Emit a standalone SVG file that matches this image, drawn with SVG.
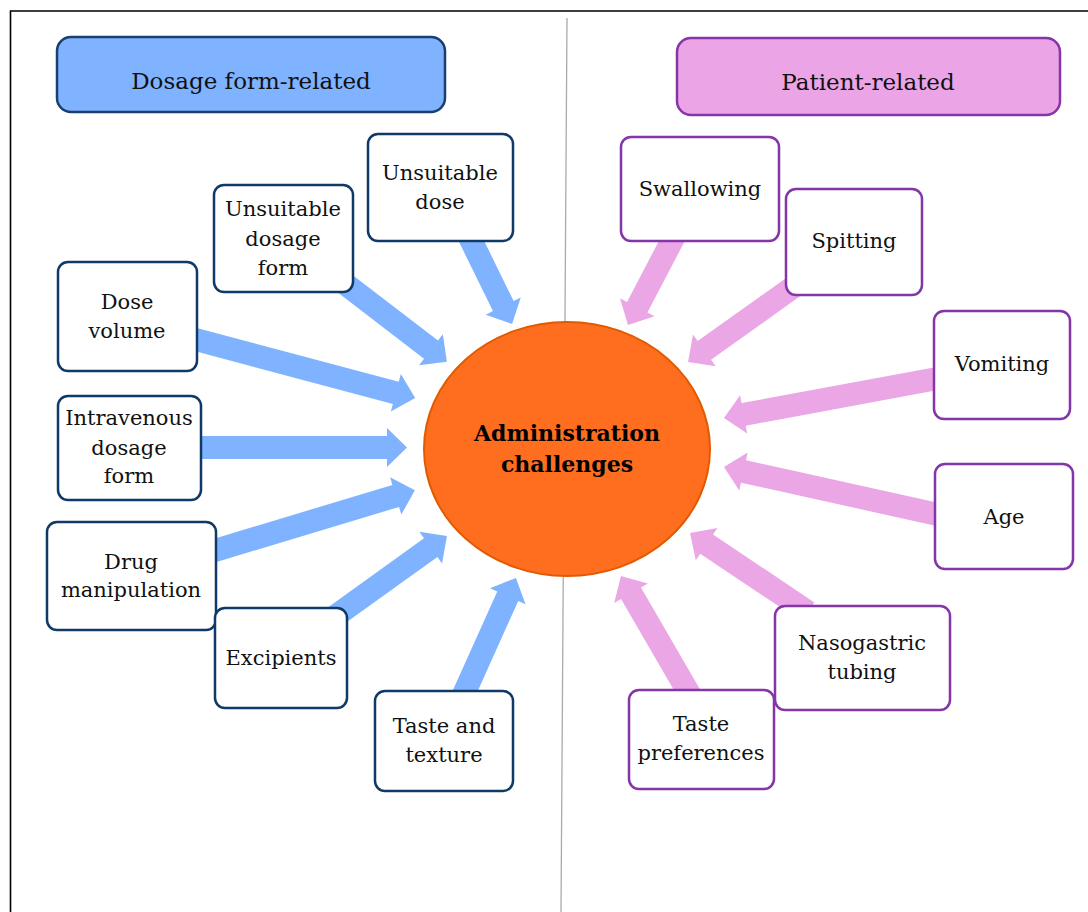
<svg xmlns="http://www.w3.org/2000/svg" width="1088" height="912" viewBox="0 0 1088 912">
<defs>
<style>
.t{font-family:"DejaVu Serif","Liberation Serif",serif;font-size:21px;fill:#111;text-anchor:middle}
.h{font-size:23px}
.b{font-weight:bold;font-size:22px;fill:#000}
.bl{fill:#fff;stroke:#0F3966;stroke-width:2.5}
.pk{fill:#fff;stroke:#8236A8;stroke-width:2.5}
.ab{fill:#7FB3FF}
.ap{fill:#EBA6E6}
</style>
</defs>
<rect width="1088" height="912" fill="#fff"/>
<path d="M10.5,912 V11 H1088" fill="none" stroke="#000" stroke-width="1.6"/>
<line x1="567" y1="18" x2="561" y2="912" stroke="#aaa" stroke-width="1.3"/>
<g id="connectors">
<path class="ab" transform="translate(466,230) rotate(63.9)" d="M0,-11.5 H84.7 V-19.5 L104.7,0 L84.7,19.5 V11.5 H0 Z"/>
<path class="ab" transform="translate(335,276) rotate(37.5)" d="M0,-11.5 H121 V-19.5 L141,0 L121,19.5 V11.5 H0 Z"/>
<path class="ab" transform="translate(190,338) rotate(14.9)" d="M0,-11.5 H213 V-19.5 L233,0 L213,19.5 V11.5 H0 Z"/>
<path class="ab" transform="translate(195,447.5) rotate(0)" d="M0,-11.5 H192 V-19.5 L212,0 L192,19.5 V11.5 H0 Z"/>
<path class="ab" transform="translate(210,552) rotate(-16.8)" d="M0,-11.5 H194 V-19.5 L214,0 L194,19.5 V11.5 H0 Z"/>
<path class="ab" transform="translate(330,620) rotate(-35.7)" d="M0,-11.5 H124 V-19.5 L144,0 L124,19.5 V11.5 H0 Z"/>
<path class="ab" transform="translate(462,698) rotate(-65.8)" d="M0,-11.5 H111.6 V-19.5 L131.6,0 L111.6,19.5 V11.5 H0 Z"/>
<path class="ap" transform="translate(675,235) rotate(117.6)" d="M0,-11.5 H81.5 V-19.5 L101.5,0 L81.5,19.5 V11.5 H0 Z"/>
<path class="ap" transform="translate(796,285) rotate(144.5)" d="M0,-11.5 H112.6 V-19.5 L132.6,0 L112.6,19.5 V11.5 H0 Z"/>
<path class="ap" transform="translate(940,378) rotate(169.5)" d="M0,-11.5 H199.7 V-19.5 L219.7,0 L199.7,19.5 V11.5 H0 Z"/>
<path class="ap" transform="translate(940,515) rotate(-167.5)" d="M0,-11.5 H201.3 V-19.5 L221.3,0 L201.3,19.5 V11.5 H0 Z"/>
<path class="ap" transform="translate(808,612) rotate(-146.2)" d="M0,-11.5 H122 V-19.5 L142,0 L122,19.5 V11.5 H0 Z"/>
<path class="ap" transform="translate(690,695) rotate(-120.1)" d="M0,-11.5 H117.6 V-19.5 L137.6,0 L117.6,19.5 V11.5 H0 Z"/>
</g>
<g id="title-dosage">
<rect x="57" y="37" width="388" height="75" rx="14" fill="#7FB2FF" stroke="#1A3F6E" stroke-width="2.5"/>
<text class="t h" x="251" y="89">Dosage form-related</text>
</g>
<g id="title-patient">
<rect x="677" y="38" width="383" height="77" rx="14" fill="#EBA4E6" stroke="#8634AA" stroke-width="2.5"/>
<text class="t h" x="868" y="90">Patient-related</text>
</g>
<g id="center">
<ellipse cx="567" cy="449" rx="143" ry="127" fill="#FF6E1F" stroke="#E25A00" stroke-width="2"/>
<text class="t b" x="567" y="441">Administration</text>
<text class="t b" x="567" y="472">challenges</text>
</g>
<g id="unsuitable-dose">
<rect class="bl" x="368" y="134" width="145" height="107" rx="10"/>
<text class="t" x="440" y="180">Unsuitable</text>
<text class="t" x="440" y="209">dose</text>
</g>
<g id="unsuitable-dosage-form">
<rect class="bl" x="214" y="185" width="139" height="107" rx="10"/>
<text class="t" x="283" y="216">Unsuitable</text>
<text class="t" x="283" y="246">dosage</text>
<text class="t" x="283" y="275">form</text>
</g>
<g id="dose-volume">
<rect class="bl" x="58" y="262" width="139" height="109" rx="10"/>
<text class="t" x="127" y="309">Dose</text>
<text class="t" x="127" y="338">volume</text>
</g>
<g id="intravenous">
<rect class="bl" x="58" y="396" width="143" height="104" rx="10"/>
<text class="t" x="129" y="425">Intravenous</text>
<text class="t" x="129" y="455">dosage</text>
<text class="t" x="129" y="483">form</text>
</g>
<g id="drug-manipulation">
<rect class="bl" x="47" y="522" width="169" height="108" rx="10"/>
<text class="t" x="131" y="569">Drug</text>
<text class="t" x="131" y="597">manipulation</text>
</g>
<g id="excipients">
<rect class="bl" x="215" y="608" width="132" height="100" rx="10"/>
<text class="t" x="281" y="665">Excipients</text>
</g>
<g id="taste-texture">
<rect class="bl" x="375" y="691" width="138" height="100" rx="10"/>
<text class="t" x="444" y="733">Taste and</text>
<text class="t" x="444" y="762">texture</text>
</g>
<g id="swallowing">
<rect class="pk" x="621" y="137" width="158" height="104" rx="10"/>
<text class="t" x="700" y="196">Swallowing</text>
</g>
<g id="spitting">
<rect class="pk" x="786" y="189" width="136" height="106" rx="10"/>
<text class="t" x="854" y="248">Spitting</text>
</g>
<g id="vomiting">
<rect class="pk" x="934" y="311" width="136" height="108" rx="10"/>
<text class="t" x="1002" y="371">Vomiting</text>
</g>
<g id="age">
<rect class="pk" x="935" y="464" width="138" height="105" rx="10"/>
<text class="t" x="1004" y="524">Age</text>
</g>
<g id="nasogastric">
<rect class="pk" x="775" y="606" width="175" height="104" rx="10"/>
<text class="t" x="862" y="650">Nasogastric</text>
<text class="t" x="862" y="679">tubing</text>
</g>
<g id="taste-preferences">
<rect class="pk" x="629" y="690" width="145" height="99" rx="10"/>
<text class="t" x="701" y="731">Taste</text>
<text class="t" x="701" y="760">preferences</text>
</g>
</svg>
